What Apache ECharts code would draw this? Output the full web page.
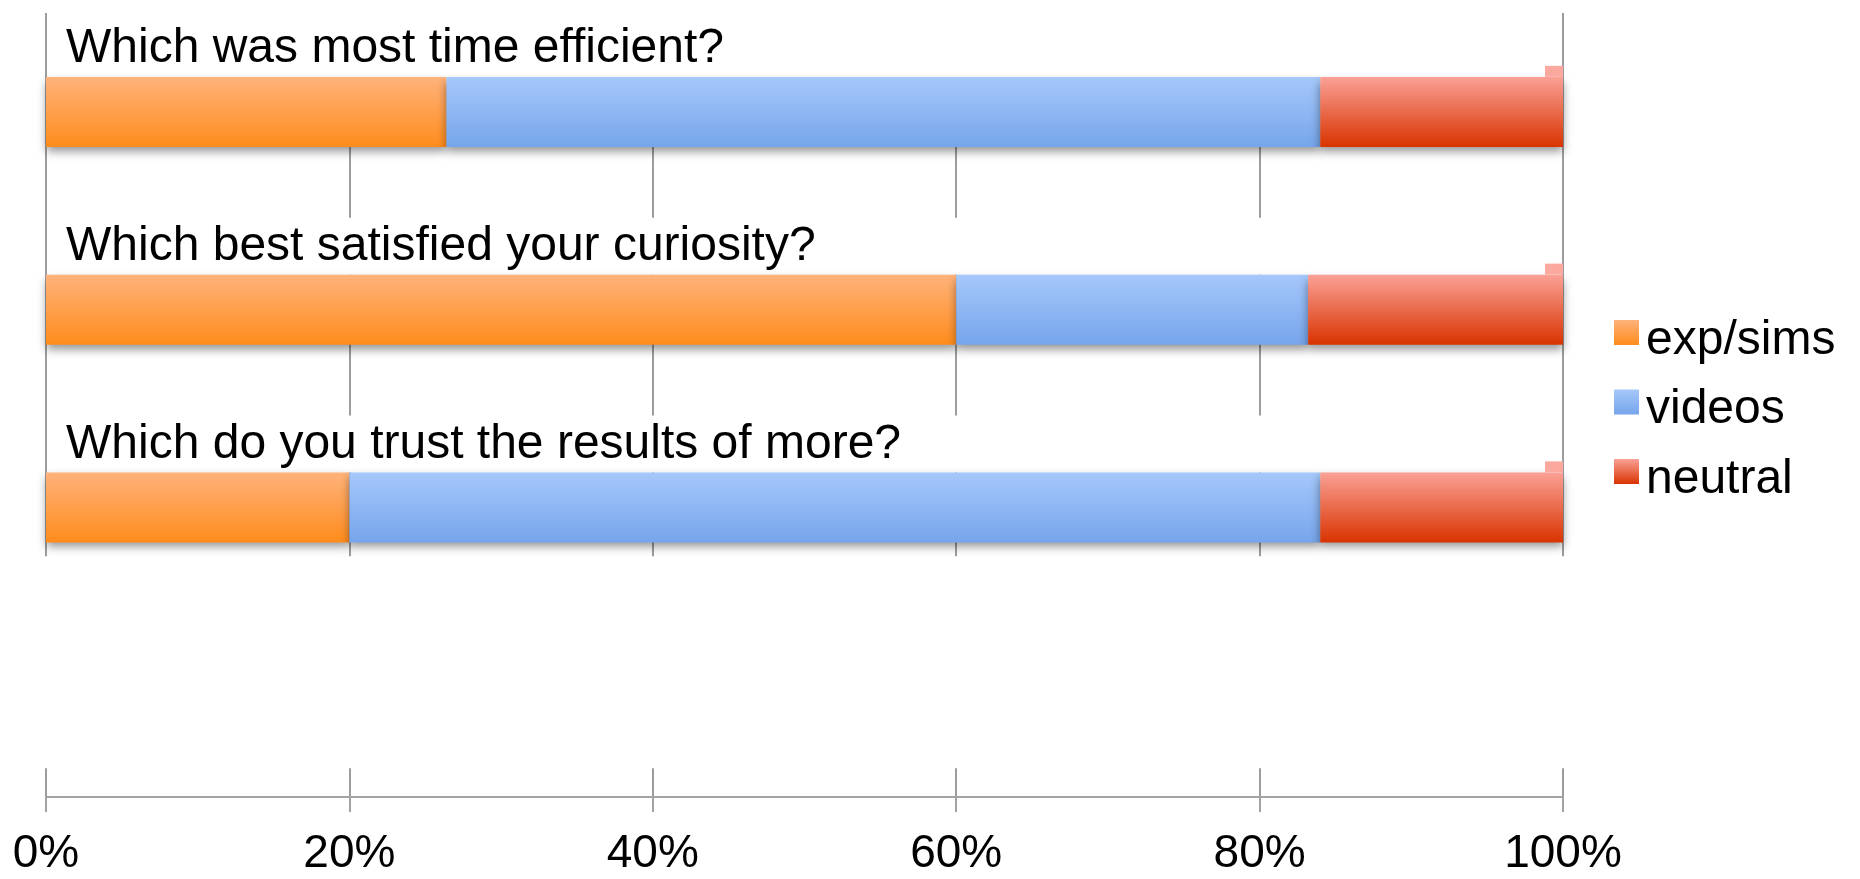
<!DOCTYPE html>
<html>
<head>
<meta charset="utf-8">
<title>Survey comparison</title>
<script src="https://cdn.jsdelivr.net/npm/echarts@6/dist/echarts.min.js"></script>
<style>
  html, body { margin: 0; padding: 0; background: #ffffff; }
  #chart { width: 1860px; height: 879px; }
</style>
</head>
<body>
<div id="chart"></div>
<script>
// Questions (the trailing empty slot keeps the blank band under the last bar)
const categories = [
  'Which was most time efficient?',
  'Which best satisfied your curiosity?',
  'Which do you trust the results of more?',
  ''
];
// Share of answers per question, in percent
const expSims = [26.4, 60.0, 20.0];
const videos  = [57.6, 23.2, 64.0];
const neutral = [16.0, 16.8, 16.0];
const seriesNames = ['exp/sims', 'videos', 'neutral'];
const axisTicks = [0, 20, 40, 60, 80, 100];

const FONT = '"Liberation Sans", Arial, Helvetica, sans-serif';

function vGrad(top, bottom) {
  return new echarts.graphic.LinearGradient(0, 0, 0, 1, [
    { offset: 0, color: top },
    { offset: 1, color: bottom }
  ]);
}

const barShadow = {
  shadowColor: 'rgba(0,0,0,0.42)',
  shadowBlur: 9,
  shadowOffsetY: 5
};

// Question captions sit on white boxes above each bar; the last slot is a plain white band
const bandLabels = categories.map((name, i) => {
  if (name === '') {
    return {
      value: 100,
      label: {
        show: true,
        position: [-3, -114],
        formatter: ' ',
        backgroundColor: '#ffffff',
        width: 1523,
        lineHeight: 212,
        padding: 0
      }
    };
  }
  const first = i === 0;
  return {
    value: 100,
    label: {
      show: true,
      position: [3, first ? -64 : -57],
      formatter: name,
      color: '#000',
      fontFamily: FONT,
      fontSize: 48,
      lineHeight: 50,
      backgroundColor: '#ffffff',
      width: 1334,
      padding: first ? [11, 0, 3, 17] : [4, 0, 3, 17]
    }
  };
});

const chart = echarts.init(document.getElementById('chart'), null, { renderer: 'canvas' });

chart.setOption({
  backgroundColor: '#ffffff',
  animation: false,
  grid: { left: 46, right: 297, top: 13, bottom: 75 },
  legend: {
    data: seriesNames,
    orient: 'vertical',
    left: 1614,
    top: 305,
    padding: 0,
    icon: 'rect',
    itemWidth: 25,
    itemHeight: 25,
    itemGap: 10,
    // a thin spacer line above each name lowers the text a little against its swatch
    formatter: name => '{s| }\n{t|' + name + '}',
    textStyle: {
      color: '#000',
      padding: [0, 0, 0, 2],
      rich: {
        s: { fontSize: 1, lineHeight: 16 },
        t: { fontFamily: FONT, fontSize: 48, lineHeight: 54, color: '#000' }
      }
    }
  },
  xAxis: {
    type: 'value',
    min: axisTicks[0],
    max: axisTicks[axisTicks.length - 1],
    interval: axisTicks[1] - axisTicks[0],
    offset: -7,
    axisLine: { show: true, lineStyle: { color: '#a3a3a3', width: 2 } },
    axisTick: { show: true, length: 15, lineStyle: { color: '#a3a3a3', width: 2 } },
    splitLine: { show: true, lineStyle: { color: '#9c9c9c', width: 2 } },
    axisLabel: {
      formatter: '{value}%',
      margin: 34,
      color: '#000',
      fontFamily: FONT,
      fontSize: 46
    }
  },
  yAxis: {
    type: 'category',
    inverse: true,
    data: categories,
    axisLine: { show: false },
    axisTick: { show: false },
    axisLabel: { show: false },
    splitLine: { show: false }
  },
  series: [
    {
      name: 'band',
      type: 'bar',
      barWidth: 70,
      barGap: '-100%',
      silent: true,
      itemStyle: { color: 'rgba(0,0,0,0)' },
      data: bandLabels,
      z: 1
    },
    {
      name: seriesNames[0],
      type: 'bar',
      stack: 'total',
      barWidth: 70,
      barGap: '-100%',
      itemStyle: Object.assign({ color: vGrad('#ffb27b', '#ff8c1c') }, barShadow),
      data: expSims,
      z: 3
    },
    {
      name: seriesNames[1],
      type: 'bar',
      stack: 'total',
      barWidth: 70,
      barGap: '-100%',
      itemStyle: Object.assign({ color: vGrad('#a6c8fb', '#76a5eb') }, barShadow),
      data: videos,
      z: 3
    },
    {
      name: seriesNames[2],
      type: 'bar',
      stack: 'total',
      barWidth: 70,
      barGap: '-100%',
      itemStyle: Object.assign({ color: vGrad('#faa196', '#d93300') }, barShadow),
      // small raised cap at the right end of each bar
      label: {
        show: true,
        position: ['100%', 0],
        offset: [-18, -11],
        formatter: ' ',
        backgroundColor: '#fba89f',
        width: 18,
        height: 11,
        lineHeight: 11,
        fontSize: 8,
        padding: 0
      },
      data: neutral,
      z: 3
    }
  ]
});
</script>
</body>
</html>
